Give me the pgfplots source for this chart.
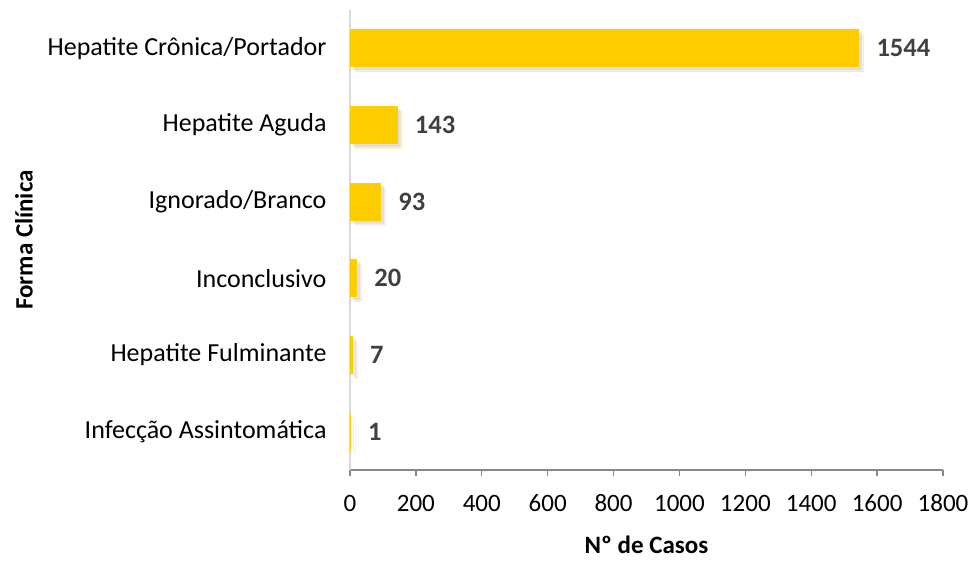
\documentclass[border=0pt]{standalone}
\usepackage{pgfplots}
\pgfplotsset{compat=1.18}
\usepackage{fontspec}
\setmainfont{Carlito}
\usetikzlibrary{shadows}
\definecolor{baryellow}{HTML}{FFCC00}
\definecolor{lblgray}{HTML}{404040}
\begin{document}
\begin{tikzpicture}[x=1pt,y=1pt]
\useasboundingbox (0,0) rectangle (973,563);
\begin{axis}[
  at={(350pt,93pt)}, anchor=south west,
  scale only axis, width=593pt, height=460pt,
  xbar, bar width=37pt,
  xmin=0, xmax=1800,
  ymin=-0.5, ymax=5.5,
  xtick={0,200,...,1800},
  ytick={0,1,2,3,4,5},
  yticklabels={Infecção Assintomática,Hepatite Fulminante,Inconclusivo,Ignorado/Branco,Hepatite Aguda,Hepatite Crônica/Portador},
  axis x line*=bottom,
  axis y line*=left,
  x axis line style={draw=black!47, line width=1.3pt, -},
  y axis line style={draw=black!15, line width=1.5pt, -},
  xtick style={draw=black!47, line width=1.3pt},
  xtick pos=bottom,
  tick align=outside,
  major tick length=6pt,
  ytick style={draw=none},
  /pgf/number format/assume math mode=true,
  /pgf/number format/1000 sep={},
  xticklabel style={font=\fontsize{25}{29}\selectfont, text=black, anchor=north, text height=16pt, text depth=0pt, yshift=-16pt},
  yticklabel style={font=\fontsize{26}{29}\selectfont, text=black, xshift=-14pt},
  xlabel={\textbf{Nº de Casos}},
  ylabel={\textbf{Forma Clínica}},
  label style={font=\fontsize{25}{29}\selectfont},
  xlabel style={yshift=-18pt},
  ylabel style={yshift=8pt},
  nodes near coords,
  nodes near coords style={font=\fontsize{26.5}{30}\selectfont\bfseries, text=lblgray, anchor=west, xshift=14pt},
  point meta=explicit symbolic,
]
\addplot[fill=baryellow, draw=baryellow, line width=1pt,
  drop shadow={opacity=0.12, shadow xshift=5pt, shadow yshift=-5pt},
  drop shadow={opacity=0.15, shadow xshift=3pt, shadow yshift=-3pt}]
  coordinates {
    (1,0)[1]
    (7,1)[7]
    (20,2)[20]
    (93,3)[93]
    (143,4)[143]
    (1544,5)[1544]
  };
\end{axis}
\end{tikzpicture}
\end{document}
